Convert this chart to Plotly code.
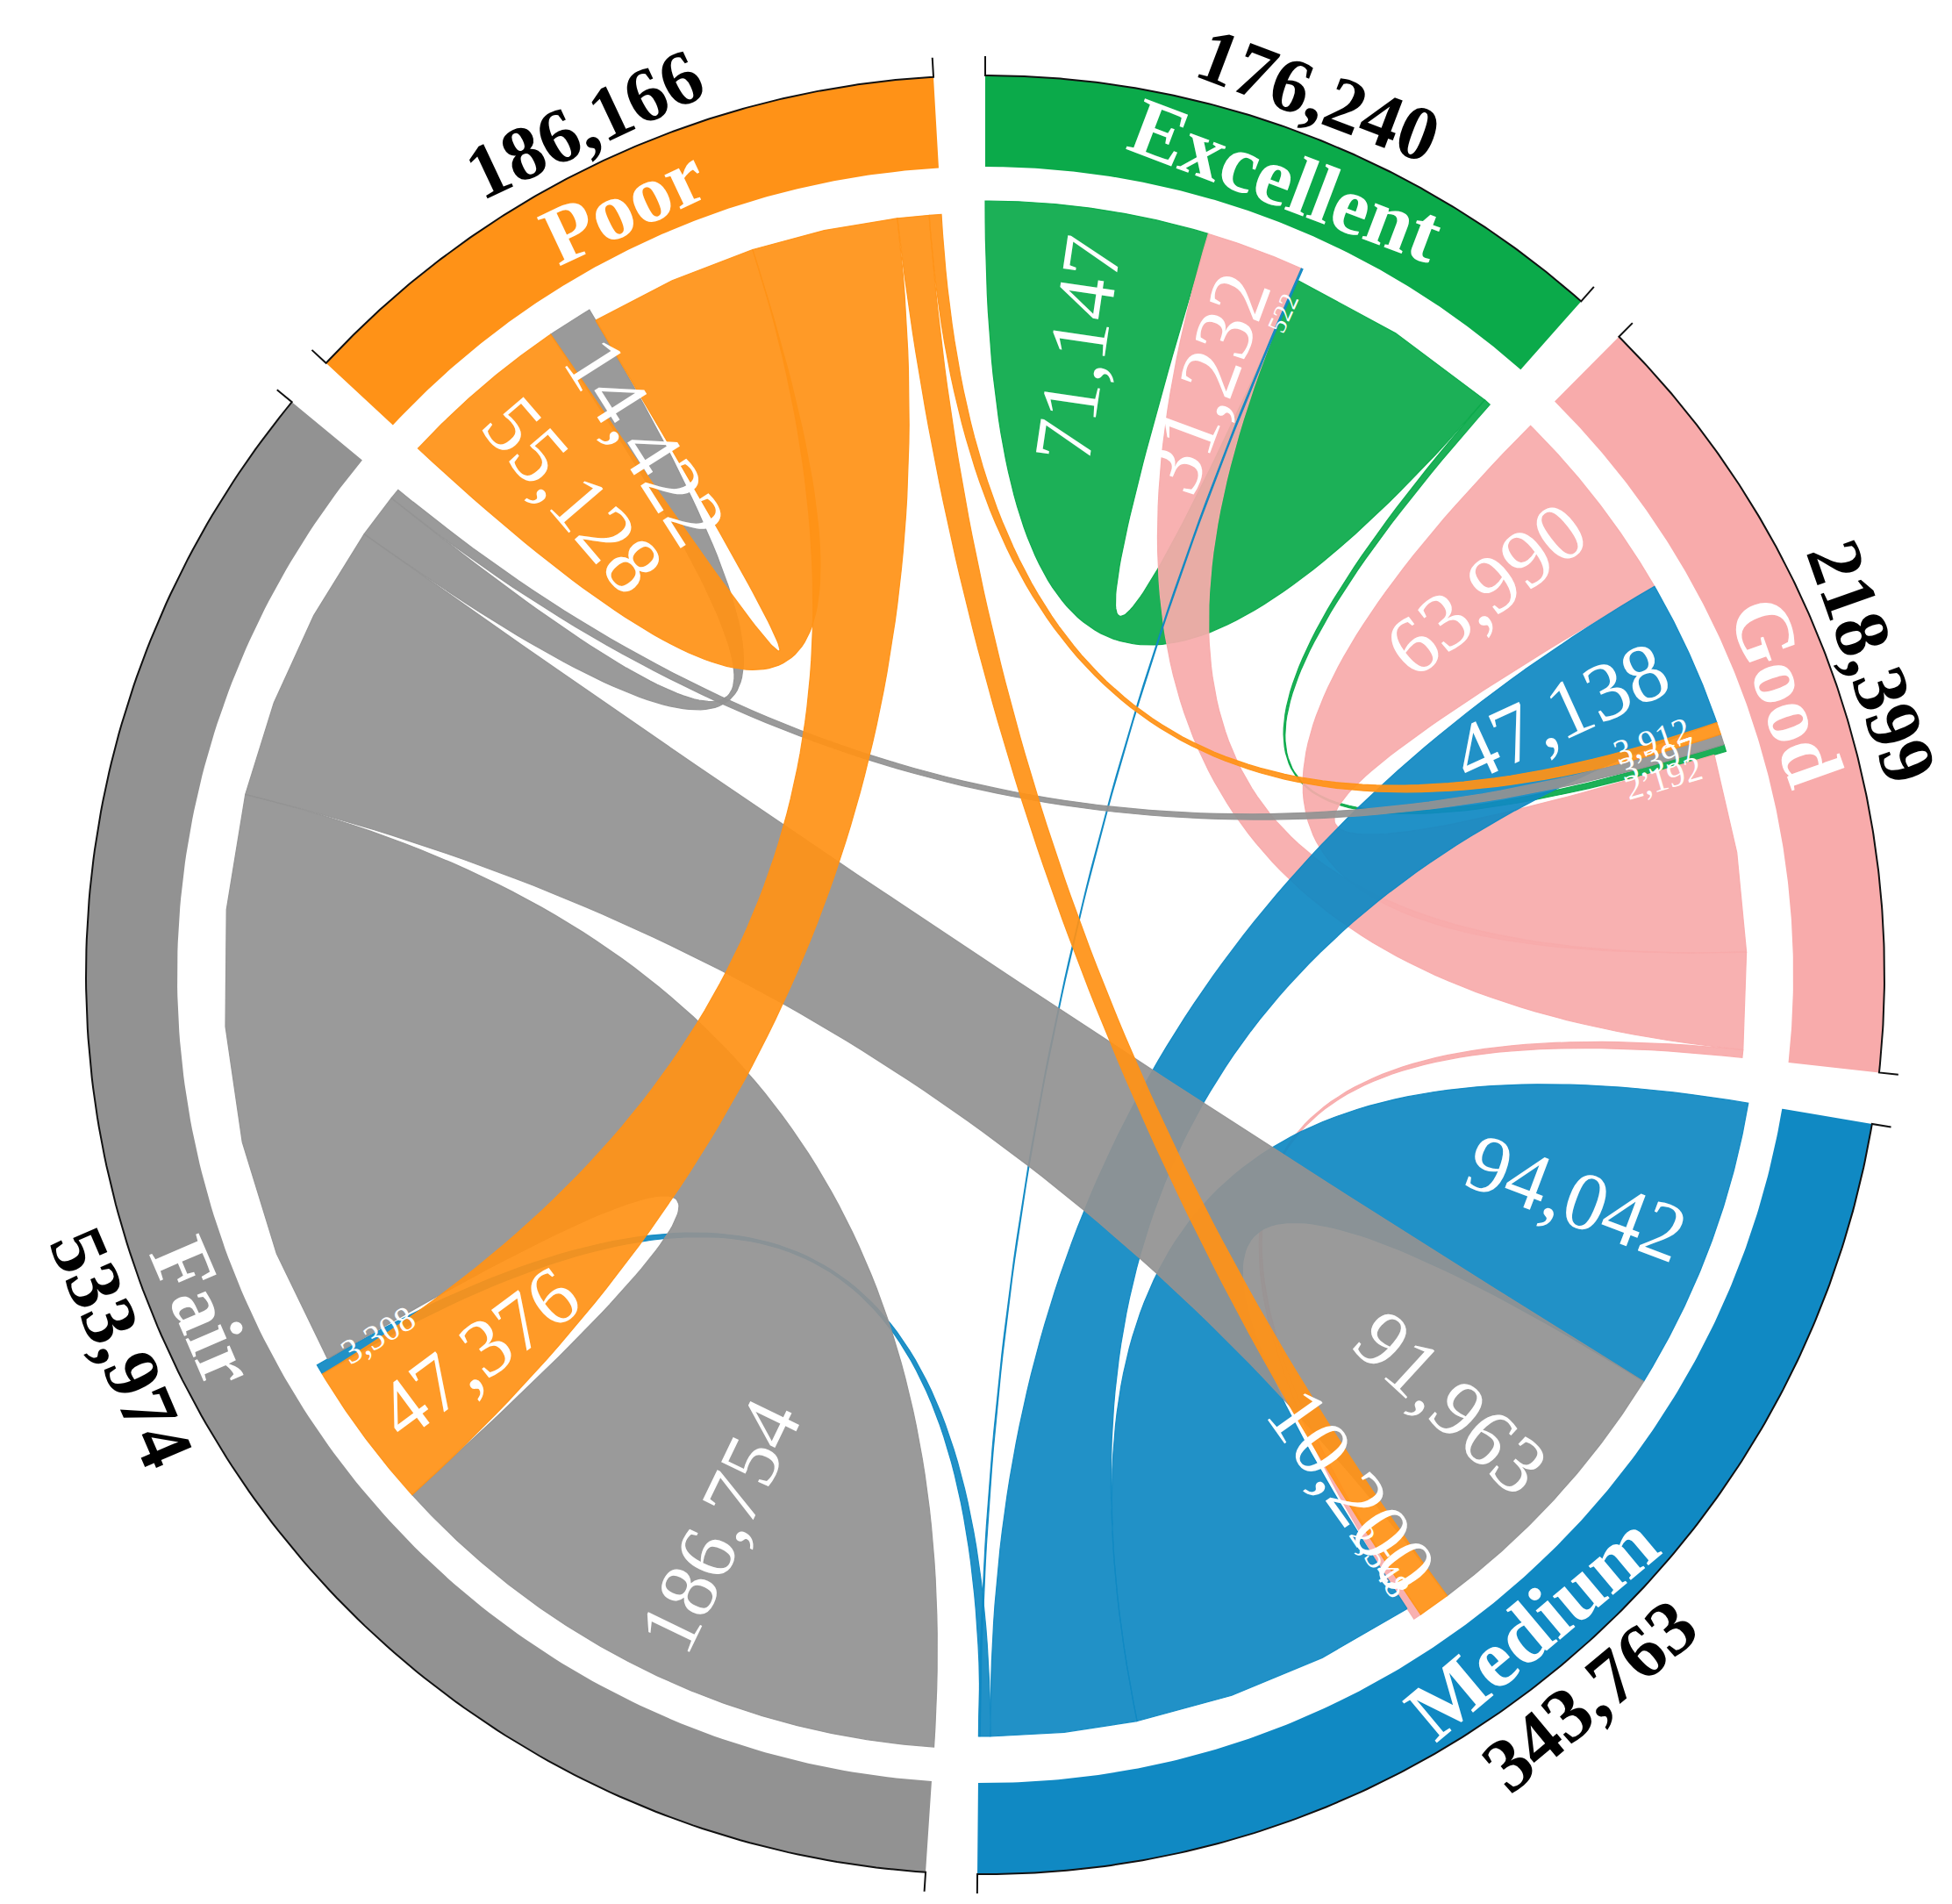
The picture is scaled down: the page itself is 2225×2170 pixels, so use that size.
import numpy as np
import plotly.graph_objects as go

# ---------------- data ----------------
NODES = ["Excellent", "Good", "Medium", "Fair", "Poor"]
NODE_COLORS = ["#0BAA4A", "#F8ABAB", "#1089C3", "#929292", "#FF9217"]

LINK_SOURCE = ["Poor", "Poor", "Poor", "Poor",
               "Excellent", "Excellent",
               "Good", "Good", "Good",
               "Medium", "Medium", "Medium", "Medium",
               "Fair", "Fair", "Fair", "Fair"]
LINK_TARGET = ["Poor", "Fair", "Medium", "Good",
               "Excellent", "Good",
               "Good", "Excellent", "Medium",
               "Medium", "Good", "Excellent", "Fair",
               "Fair", "Poor", "Medium", "Good"]
LINK_VALUE = [55128, 47376, 10200, 3912,
              71147, 2192,
              63990, 31232, 2548,
              94042, 47138, 522, 3308,
              186754, 14422, 91963, 3397]

# draw order of link groups (by source)
DRAW_ORDER = ["Excellent", "Good", "Medium", "Fair", "Poor"]

# ---------------- geometry ----------------
W, H = 2225, 2170
CX, CY = 1115.0, 1103.0
R_OUT, R_IN = 1025.0, 921.0
R_TGT, R_SRC = 882.0, 868.0
GAP = 3.3
START = 0.0
FONT = "Liberation Serif"
color_of = dict(zip(NODES, NODE_COLORS))


def pt(theta, r):
    t = np.radians(theta)
    return CX + r * np.sin(t), CY - r * np.cos(t)


def rgba(hexc, a):
    h = hexc.lstrip("#")
    return "rgba(%d,%d,%d,%.3f)" % (int(h[0:2], 16), int(h[2:4], 16), int(h[4:6], 16), a)


n_links = len(LINK_VALUE)
totals = {n: sum(v for s, v in zip(LINK_SOURCE, LINK_VALUE) if s == n)
          + sum(v for t, v in zip(LINK_TARGET, LINK_VALUE) if t == n) for n in NODES}
grand = sum(totals.values())
k = (360.0 - GAP * len(NODES)) / grand

sector = {}
a = START
for n in NODES:
    sector[n] = (a, a + totals[n] * k)
    a += totals[n] * k + GAP

tgt_span, src_span = {}, {}
for n in NODES:
    a = sector[n][0]
    inc = sorted([i for i in range(n_links) if LINK_TARGET[i] == n], key=lambda i: -LINK_VALUE[i])
    out = sorted([i for i in range(n_links) if LINK_SOURCE[i] == n], key=lambda i: -LINK_VALUE[i])
    for i in inc:
        tgt_span[i] = (a, a + LINK_VALUE[i] * k)
        a += LINK_VALUE[i] * k
    for i in out:
        src_span[i] = (a, a + LINK_VALUE[i] * k)
        a += LINK_VALUE[i] * k


def arc(a1, a2, r, n):
    th = np.linspace(a1, a2, n)
    xs, ys = pt(th, r)
    return list(xs), list(ys)


def bez(p0, p2, n=80):
    ts = np.linspace(0, 1, n)
    x = (1 - ts) ** 2 * p0[0] + 2 * (1 - ts) * ts * CX + ts ** 2 * p2[0]
    y = (1 - ts) ** 2 * p0[1] + 2 * (1 - ts) * ts * CY + ts ** 2 * p2[1]
    return list(x), list(y)


fig = go.Figure()

# ---------------- ring sectors ----------------
for n in NODES:
    a1, a2 = sector[n]
    xo, yo = arc(a1, a2, R_OUT, 200)
    xi, yi = arc(a2, a1, R_IN, 200)
    fig.add_trace(go.Scatter(x=xo + xi + [xo[0]], y=yo + yi + [yo[0]], mode="lines",
                             fill="toself", fillcolor=color_of[n], line=dict(width=0),
                             hoverinfo="skip", showlegend=False))
    # thin dark outline along outer edge with end ticks
    x0, y0 = pt(a1, R_OUT + 22)
    x1, y1 = pt(a2, R_OUT + 22)
    fig.add_trace(go.Scatter(x=[x0] + xo + [x1], y=[y0] + yo + [y1], mode="lines",
                             line=dict(color="#111111", width=2), hoverinfo="skip",
                             showlegend=False))

# ---------------- chords ----------------
for src in DRAW_ORDER:
    for i in range(n_links):
        if LINK_SOURCE[i] != src:
            continue
        s1, s2 = src_span[i]
        t1, t2 = tgt_span[i]
        ns = max(2, int((s2 - s1) / 9.0) + 2)
        xs, ys = arc(s1, s2, R_SRC, ns)
        xb1, yb1 = bez(pt(s2, R_SRC), pt(t1, R_TGT))
        xt, yt = arc(t1, t2, R_TGT, max(2, int((t2 - t1) * 4) + 2))
        xb2, yb2 = bez(pt(t2, R_TGT), pt(s1, R_SRC))
        X = xs + xb1 + xt + xb2
        Y = ys + yb1 + yt + yb2
        c = color_of[src]
        fig.add_trace(go.Scatter(x=X, y=Y, mode="lines", fill="toself",
                                 fillcolor=rgba(c, 0.93),
                                 line=dict(color=rgba(c, 0.95), width=1.2),
                                 hoverinfo="skip", showlegend=False))


def tangent_angle(theta):
    th = theta % 360
    ang = th - 180 if 90 < th < 270 else th
    if ang > 180:
        ang -= 360
    return ang


def radial_angle(theta):
    th = theta % 360
    ang = th - 90 if 0 <= th < 180 else th + 90
    while ang > 180:
        ang -= 360
    return ang


annotations = []
# node names inside ring, totals outside
for n in NODES:
    a1, a2 = sector[n]
    mid = (a1 + a2) / 2
    x, y = pt(mid, (R_OUT + R_IN) / 2 - 4)
    annotations.append(dict(x=x, y=y, text="<b>%s</b>" % n, showarrow=False,
                            textangle=tangent_angle(mid), xanchor="center", yanchor="middle",
                            font=dict(family=FONT, size=94, color="white")))
    x, y = pt(mid, R_OUT + 47)
    annotations.append(dict(x=x, y=y, text="<b>{:,}</b>".format(totals[n]), showarrow=False,
                            textangle=tangent_angle(mid), xanchor="center", yanchor="middle",
                            font=dict(family=FONT, size=88, color="black")))

# link value labels at target ends
R_LAB_END = 850.0
labels = []
for i in range(n_links):
    v = LINK_VALUE[i]
    size = 94 if v >= 10000 else (40 if v >= 1000 else 30)
    t1, t2 = tgt_span[i]
    labels.append([i, (t1 + t2) / 2, size])

# spread small labels that sit too close within a sector
for n in NODES:
    grp = sorted([L for L in labels if LINK_TARGET[L[0]] == n and L[2] < 60], key=lambda L: L[1])
    if len(grp) > 1:
        orig_mean = np.mean([L[1] for L in grp])
        for j in range(1, len(grp)):
            min_sep = np.degrees(0.55 * grp[j][2] / 800.0)
            if grp[j][1] - grp[j - 1][1] < min_sep:
                grp[j][1] = grp[j - 1][1] + min_sep
        shift = np.mean([L[1] for L in grp]) - orig_mean
        for L in grp:
            L[1] -= shift

for i, theta, size in labels:
    txt = "{:,}".format(LINK_VALUE[i])
    width_em = sum(0.25 if ch == "," else 0.5 for ch in txt)
    L = width_em * size
    x, y = pt(theta, R_LAB_END - L / 2)
    annotations.append(dict(x=x, y=y, text=txt, showarrow=False,
                            textangle=radial_angle(theta), xanchor="center", yanchor="middle",
                            font=dict(family=FONT, size=size, color="white")))

fig.update_layout(
    width=W, height=H,
    margin=dict(l=0, r=0, t=0, b=0),
    paper_bgcolor="white", plot_bgcolor="white",
    xaxis=dict(range=[0, W], visible=False, fixedrange=True),
    yaxis=dict(range=[H, 0], visible=False, fixedrange=True),
    annotations=annotations,
    showlegend=False,
)

fig.write_html("out.html")
